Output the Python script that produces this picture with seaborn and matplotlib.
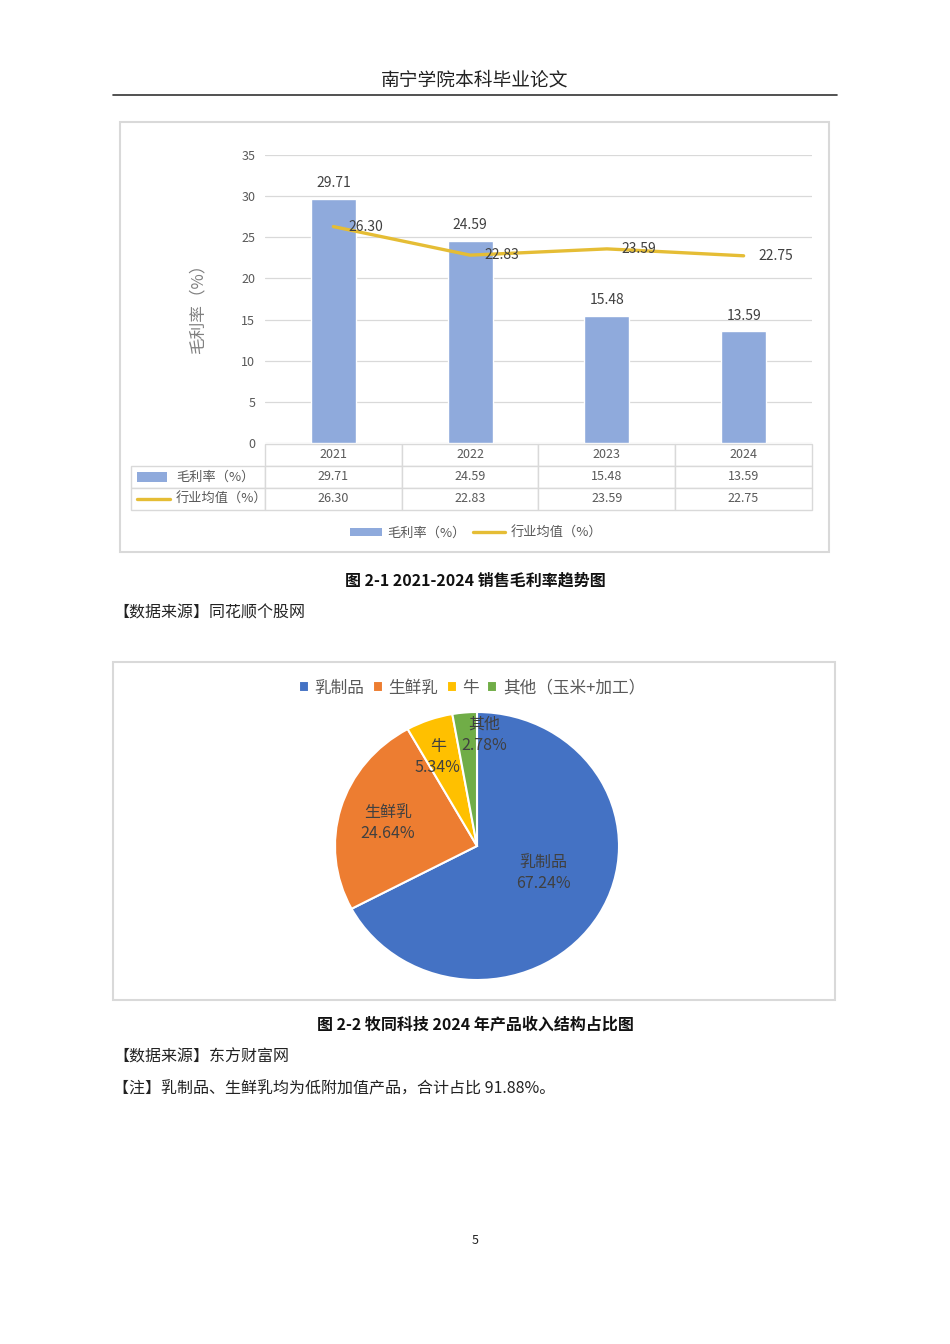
import numpy as np
import pandas as pd
import matplotlib
matplotlib.use("Agg")
import matplotlib.pyplot as plt
from matplotlib.patches import Rectangle
from matplotlib.lines import Line2D
import seaborn as sns

# ---------------- data ----------------
years = ["2021", "2022", "2023", "2024"]
gross_margin = [29.71, 24.59, 15.48, 13.59]
industry_avg = [26.30, 22.83, 23.59, 22.75]
series_names = ["毛利率（%）", "行业均值（%）"]
y_ticks = [0, 5, 10, 15, 20, 25, 30, 35]

pie_labels = ["乳制品", "生鲜乳", "牛", "其他"]
pie_legend = ["乳制品", "生鲜乳", "牛", "其他（玉米+加工）"]
pie_values = [67.24, 24.64, 5.34, 2.78]

header_text = "南宁学院本科毕业论文"
caption1 = "图 2-1 2021-2024 销售毛利率趋势图"
source1 = "【数据来源】同花顺个股网"
caption2 = "图 2-2 牧同科技 2024 年产品收入结构占比图"
source2 = "【数据来源】东方财富网"
note2 = "【注】乳制品、生鲜乳均为低附加值产品，合计占比 91.88%。"
page_no = "5"

# ---------------- style ----------------
sns.set_theme(style="white")
plt.rcParams['font.family'] = ['Noto Sans CJK SC', 'DejaVu Sans']
plt.rcParams['axes.unicode_minus'] = False

W, H = 950, 1344
fig = plt.figure(figsize=(W / 100, H / 100), dpi=100)
fig.patch.set_facecolor("white")

def fx(px):
    return px / W

def fy(py):
    return 1 - py / H

BAR_C = "#8faadc"
LINE_C = "#e5bd35"
GRID_C = "#d9d9d9"
TXT_C = "#595959"
LBL_C = "#404040"

# page header
fig.text(fx(475), fy(80), header_text, ha="center", va="center", fontsize=13.5, color="#222222")
fig.add_artist(Line2D([fx(113), fx(837)], [fy(95), fy(95)], color="#333333", lw=1.2,
                      transform=fig.transFigure))

# chart 1 frame
fig.add_artist(Rectangle((fx(120), fy(552)), fx(829) - fx(120), fy(122) - fy(552),
                         transform=fig.transFigure, fill=False, edgecolor=GRID_C, lw=1.5))

# ---------------- chart 1 ----------------
ax_l, ax_r, ax_t, ax_b = 265, 812, 155, 443
ax = fig.add_axes([fx(ax_l), fy(ax_b), fx(ax_r) - fx(ax_l), fy(ax_t) - fy(ax_b)])
df = pd.DataFrame({"year": years, "gm": gross_margin, "avg": industry_avg})
sns.barplot(data=df, x="year", y="gm", color=BAR_C, saturation=1, width=0.33, ax=ax, zorder=2)
sns.lineplot(x=np.arange(len(years)), y=industry_avg, color=LINE_C, lw=2.4, ax=ax, zorder=3)

ax.set_ylim(0, 35)
ax.set_xlim(-0.5, len(years) - 0.5)
ax.set_yticks(y_ticks)
ax.set_yticklabels([str(t) for t in y_ticks], color=TXT_C, fontsize=9)
ax.tick_params(axis="y", length=0, pad=7)
ax.set_xticks([])
ax.set_xlabel("")
ax.set_ylabel("")
for s in ax.spines.values():
    s.set_visible(False)
ax.grid(axis="y", color=GRID_C, lw=0.9, zorder=0)
ax.set_axisbelow(True)

ax.bar_label(ax.containers[0], labels=[f"{v:.2f}" for v in gross_margin],
             padding=6, fontsize=10, color=LBL_C)
for i, v in enumerate(industry_avg):
    ax.annotate(f"{v:.2f}", (i, v), xytext=(10.5, 0), textcoords="offset points",
                ha="left", va="center", fontsize=10, color=LBL_C, zorder=4)

fig.text(fx(198), fy(305), "毛利率（%）", rotation=90, ha="center", va="center",
         fontsize=12, color="#808080")

# data table
def axx(px):
    return (px - ax_l) / (ax_r - ax_l)

def axy(py):
    return (ax_b - py) / (ax_b - ax_t)

cell_text = [[""] + years,
             [""] + [f"{v:.2f}" for v in gross_margin],
             [""] + [f"{v:.2f}" for v in industry_avg]]
widths = np.array([134, 137, 137, 137, 137], dtype=float)
widths = widths / widths.sum()
tbl = ax.table(cellText=cell_text, colWidths=list(widths), cellLoc="center",
               bbox=[axx(131), axy(510), axx(812) - axx(131), axy(444) - axy(510)])
tbl.auto_set_font_size(False)
tbl.set_fontsize(9)
for (r, c), cell in tbl.get_celld().items():
    cell.set_edgecolor(GRID_C)
    cell.set_linewidth(1.0)
    cell.get_text().set_color(TXT_C)
    if r == 0 and c == 0:
        cell.visible_edges = ""
# row label keys
ax.add_patch(Rectangle((axx(137), axy(482)), axx(167) - axx(137), axy(472) - axy(482),
                       transform=ax.transAxes, clip_on=False, facecolor=BAR_C, edgecolor="none"))
ax.add_line(Line2D([axx(137), axx(170)], [axy(499), axy(499)], transform=ax.transAxes,
                   clip_on=False, color=LINE_C, lw=2.4))
ax.text(axx(176), axy(477), series_names[0], transform=ax.transAxes, ha="left", va="center",
        fontsize=9.5, color=TXT_C)
ax.text(axx(176), axy(499), series_names[1], transform=ax.transAxes, ha="left", va="center",
        fontsize=9.5, color=TXT_C)

# chart 1 legend
h1 = Rectangle((0, 0), 1, 1, facecolor=BAR_C, edgecolor="none")
h2 = Line2D([0], [0], color=LINE_C, lw=2.4)
fig.legend([h1, h2], series_names, loc="center", bbox_to_anchor=(fx(476), fy(533)),
           ncol=2, frameon=False, fontsize=9.5, labelcolor=TXT_C, handlelength=2.4,
           handleheight=0.6, handletextpad=0.4, columnspacing=0.6)

fig.text(fx(475), fy(581), caption1, ha="center", va="center", fontsize=11.5,
         fontweight="bold", color="#111111")
fig.text(fx(113), fy(613), source1, ha="left", va="center", fontsize=11.5, color="#222222")

# ---------------- chart 2 ----------------
fig.add_artist(Rectangle((fx(113), fy(1000)), fx(835) - fx(113), fy(662) - fy(1000),
                         transform=fig.transFigure, fill=False, edgecolor=GRID_C, lw=1.5))
pie_colors = ["#4472c4", "#ed7d31", "#ffc000", "#70ad47"]
ax2 = fig.add_axes([fx(335), fy(980), fx(619) - fx(335), fy(712) - fy(980)])
wedges, texts = ax2.pie(pie_values, colors=pie_colors, startangle=90, counterclock=False,
                        wedgeprops=dict(edgecolor="white", linewidth=1.5))
ax2.set_xlim(-1, 1)
ax2.set_ylim(-1, 1)
ax2.set_aspect("auto")
dists = [0.51, 0.65, 0.72, 0.83]
ang_shift = [7.7, 1.0, 3.0, -8.4]
for w, lab, val, d, sh in zip(wedges, pie_labels, pie_values, dists, ang_shift):
    ang = np.deg2rad((w.theta1 + w.theta2) / 2 + sh)
    ax2.text(d * np.cos(ang), d * np.sin(ang), f"{lab}\n{val:.2f}%", ha="center", va="center",
             fontsize=11.5, color=LBL_C, linespacing=1.3)

fig.legend(wedges, pie_legend, loc="center", bbox_to_anchor=(fx(472), fy(688)), ncol=4,
           frameon=False, fontsize=12, labelcolor=TXT_C, handlelength=0.6, handleheight=0.6,
           handletextpad=0.35, columnspacing=0.5)

fig.text(fx(475), fy(1025), caption2, ha="center", va="center", fontsize=11.5,
         fontweight="bold", color="#111111")
fig.text(fx(113), fy(1057), source2, ha="left", va="center", fontsize=11.5, color="#222222")
fig.text(fx(113), fy(1089), note2, ha="left", va="center", fontsize=11.5, color="#222222")
fig.text(fx(475), fy(1240), page_no, ha="center", va="center", fontsize=9, color="#222222")

fig.savefig("out.png", dpi=100, facecolor="white")
